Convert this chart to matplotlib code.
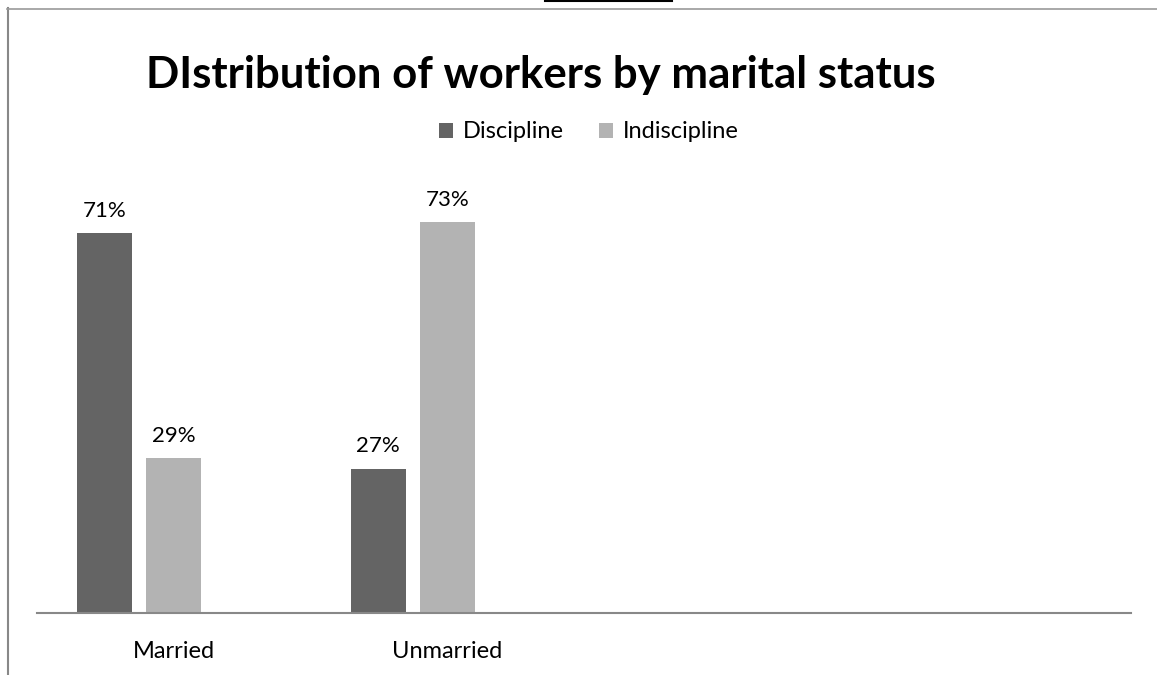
import numpy as np
import matplotlib.pyplot as plt
from matplotlib.lines import Line2D

plt.rcParams['font.family'] = ['Lato', 'DejaVu Sans']

categories = ['Married', 'Unmarried', '', '']
discipline = [71, 27, np.nan, np.nan]
indiscipline = [29, 73, np.nan, np.nan]
series_names = ['Discipline', 'Indiscipline']
colors = ['#646464', '#b3b3b3']

fig = plt.figure(figsize=(11.57, 6.75), dpi=100)
ax = fig.add_axes([37/1157, 1 - 613/675, 1094/1157, (613-185)/675])

x = np.arange(len(categories))
w = 0.2
offsets = [-0.252, 0.0]
for vals, off, c, name in zip([discipline, indiscipline], offsets, colors, series_names):
    bars = ax.bar(x + off, vals, width=w, color=c, label=name, zorder=2)
    for xi, v in zip(x + off, vals):
        if not np.isnan(v):
            ax.text(xi, v + 2.3, f'{v:.0f}%', ha='center', va='bottom', fontsize=16)

ax.set_xlim(-0.5, len(categories) - 0.5)
ax.set_ylim(0, 80)
ax.set_xticks(x)
ax.set_xticklabels(categories, fontsize=17)
ax.tick_params(axis='x', length=0, pad=20)
ax.set_yticks([])
for s in ['top', 'right', 'left']:
    ax.spines[s].set_visible(False)
ax.spines['bottom'].set_color('#888888')
ax.spines['bottom'].set_linewidth(1.5)

fig.text(541/1157, 1 - 75/675, 'DIstribution of workers by marital status',
         ha='center', va='center', fontsize=31.5, fontweight='bold')

fig.legend(loc='center', bbox_to_anchor=(589/1157, 1 - 132/675), ncol=2,
           frameon=False, fontsize=17, handlelength=0.6, handleheight=0.6,
           handletextpad=0.4, columnspacing=1.5)

# outer frame lines and the cut-off heading underline
fig.add_artist(Line2D([7.5/1157, 7.5/1157], [0, 1 - 8/675], color='#888888', lw=1.5))
fig.add_artist(Line2D([7/1157, 1], [1 - 9/675, 1 - 9/675], color='#999999', lw=1.2))
fig.add_artist(Line2D([545/1157, 672/1157], [1 - 0.5/675, 1 - 0.5/675], color='black', lw=1.5))

fig.savefig('out.png', dpi=100)
